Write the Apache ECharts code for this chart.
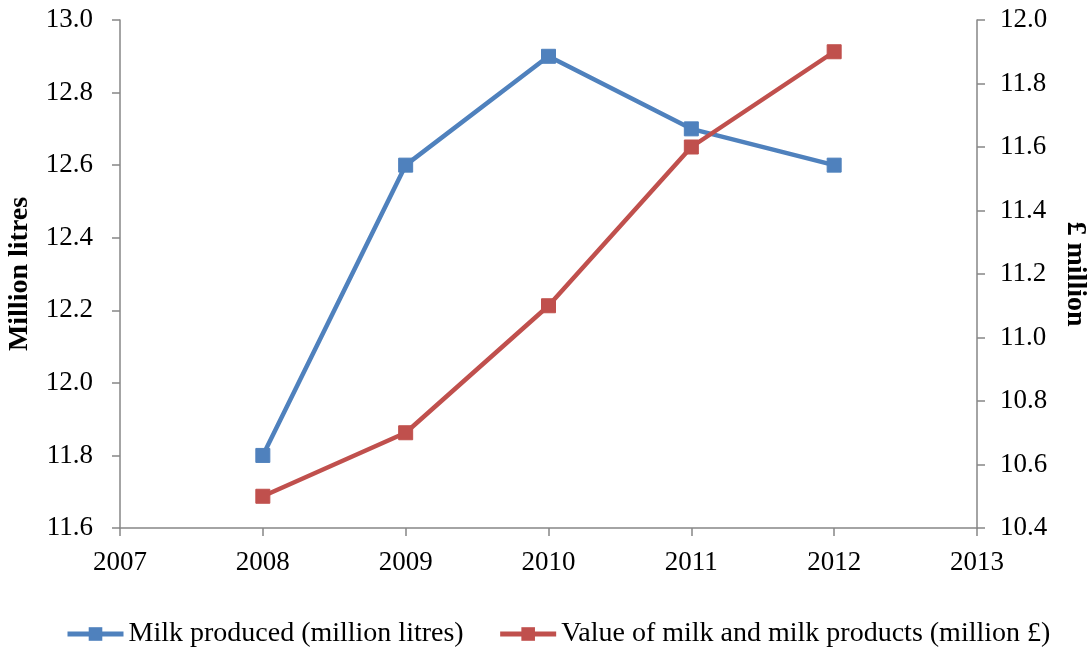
<!DOCTYPE html>
<html>
<head>
<meta charset="utf-8">
<script src="https://cdn.jsdelivr.net/npm/echarts@6/dist/echarts.min.js"></script>
<style>
  html, body { margin: 0; padding: 0; background: #ffffff; }
  #chart { width: 1088px; height: 648px; }
</style>
</head>
<body>
<div id="chart"></div>
<script>
// Years of the series
const years = [2008, 2009, 2010, 2011, 2012];
// Milk produced, million litres (left axis)
const milkProduced = [11.8, 12.6, 12.9, 12.7, 12.6];
// Value of milk and milk products, million £ (right axis)
const milkValue = [10.5, 10.7, 11.1, 11.6, 11.9];

const seriesNames = ['Milk produced (million litres)', 'Value of milk and milk products (million £)'];
const FONT = 'Liberation Serif';
const AXIS_COLOR = '#868686';

const chart = echarts.init(document.getElementById('chart'), null, { renderer: 'canvas' });

const pairs = (xs, ys) => xs.map((x, i) => [x, ys[i]]);

chart.setOption({
  animation: false,
  backgroundColor: '#ffffff',
  textStyle: { fontFamily: FONT, color: '#000' },
  grid: { left: 120, right: 111, top: 20, bottom: 120, containLabel: false, outerBoundsMode: 'none' },
  legend: {
    top: 615,
    left: 60,
    itemWidth: 56,
    itemHeight: 17,
    itemGap: 34,
    lineStyle: { width: 5 },
    textStyle: { fontFamily: FONT, fontSize: 28, color: '#000' },
    data: seriesNames
  },
  xAxis: {
    type: 'value',
    min: 2007,
    max: 2013,
    interval: 1,
    axisLine: { lineStyle: { color: AXIS_COLOR, width: 1.5 } },
    axisTick: { show: true, length: 8, lineStyle: { color: AXIS_COLOR, width: 1.5 } },
    splitLine: { show: false },
    axisLabel: { margin: 21, fontFamily: FONT, fontSize: 27, color: '#000', formatter: v => String(v) }
  },
  yAxis: [
    {
      type: 'value',
      min: 11.6,
      max: 13.0,
      interval: 0.2,
      name: 'Million litres',
      nameLocation: 'middle',
      nameRotate: 90,
      nameGap: 86,
      nameTextStyle: { fontFamily: FONT, fontSize: 28, fontWeight: 'bold', color: '#000' },
      axisLine: { show: true, lineStyle: { color: AXIS_COLOR, width: 1.5 } },
      axisTick: { show: true, length: 8, lineStyle: { color: AXIS_COLOR, width: 1.5 } },
      splitLine: { show: false },
      axisLabel: { margin: 27, fontFamily: FONT, fontSize: 27, color: '#000', formatter: v => v.toFixed(1) }
    },
    {
      type: 'value',
      position: 'right',
      min: 10.4,
      max: 12.0,
      interval: 0.2,
      name: '£ million',
      nameLocation: 'middle',
      nameRotate: -90,
      nameGap: 84,
      nameTextStyle: { fontFamily: FONT, fontSize: 28, fontWeight: 'bold', color: '#000' },
      axisLine: { show: true, lineStyle: { color: AXIS_COLOR, width: 1.5 } },
      axisTick: { show: true, length: 8, lineStyle: { color: AXIS_COLOR, width: 1.5 } },
      splitLine: { show: false },
      axisLabel: { margin: 23, fontFamily: FONT, fontSize: 27, color: '#000', formatter: v => v.toFixed(1) }
    }
  ],
  series: [
    {
      name: seriesNames[0],
      type: 'line',
      yAxisIndex: 0,
      data: pairs(years, milkProduced),
      symbol: 'rect',
      symbolSize: 14,
      lineStyle: { color: '#4F81BD', width: 4.5 },
      itemStyle: { color: '#4F81BD', borderColor: '#4F81BD' }
    },
    {
      name: seriesNames[1],
      type: 'line',
      yAxisIndex: 1,
      data: pairs(years, milkValue),
      symbol: 'rect',
      symbolSize: 14,
      lineStyle: { color: '#C0504D', width: 4.5 },
      itemStyle: { color: '#C0504D', borderColor: '#C0504D' }
    }
  ]
});
</script>
</body>
</html>
